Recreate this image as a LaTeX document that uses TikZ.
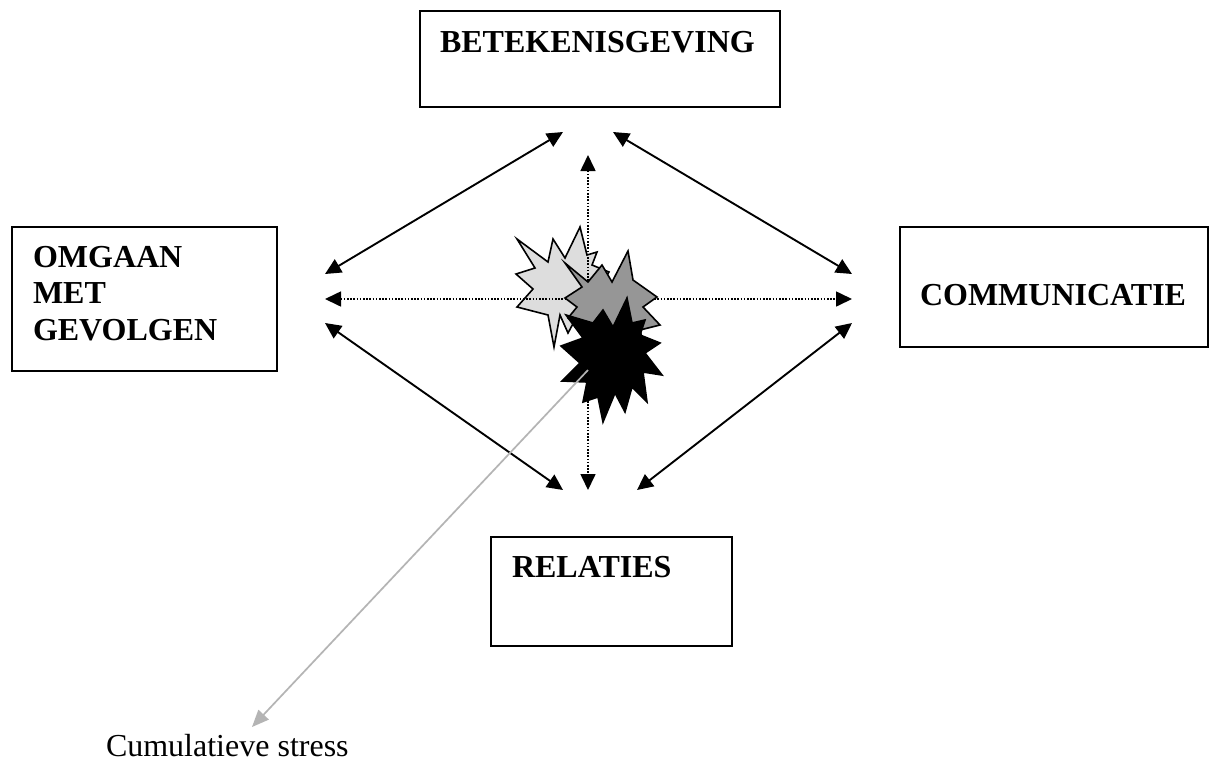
\documentclass[tikz,border=0pt]{standalone}
\usepackage{fontspec}
\setmainfont{Liberation Serif}
\usetikzlibrary{arrows.meta}
\definecolor{lightstar}{HTML}{DDDDDD}
\definecolor{midstar}{HTML}{969696}
\definecolor{stressgray}{HTML}{B4B4B4}
\begin{document}
\begin{tikzpicture}[x=1pt,y=-1pt,
  box/.style={draw, line width=2pt, inner sep=0pt, outer sep=0pt, anchor=north west},
  lbl/.style={inner sep=0pt, outer sep=0pt, anchor=base west, font=\fontsize{32}{36.5}\selectfont\bfseries},
  plain/.style={inner sep=0pt, outer sep=0pt, anchor=base west, font=\fontsize{32}{36.5}\selectfont},
  biarrow/.style={{Triangle[length=16pt,width=15pt]}-{Triangle[length=16pt,width=15pt]}, line width=1.9pt},
  dotarrow/.style={{Triangle[length=16pt,width=15pt]}-{Triangle[length=16pt,width=15pt]}, line width=1.6pt, dash pattern=on 1.6pt off 1.6pt},
  stressarrow/.style={-{Triangle[length=17pt,width=14pt]}, line width=1.7pt, draw=stressgray},
  star/.style={draw=black, line width=1.6pt, line join=miter}
]
\useasboundingbox (0,0) rectangle (1209,764);
\fill[white] (0,0) rectangle (1209,764);

% boxes
\node[box, minimum width=360pt, minimum height=96pt] (bet) at (420,11) {};
\node[box, minimum width=265pt, minimum height=144pt] (omg) at (12,227) {};
\node[box, minimum width=308pt, minimum height=120pt] (com) at (900,227) {};
\node[box, minimum width=241pt, minimum height=109pt] (rel) at (491,537) {};

% labels
\node[lbl] (tbet) at (440,52) {BETEKENISGEVING};
\node[lbl, align=left] (tomg) at (33,340) {OMGAAN\\MET\\GEVOLGEN};
\node[lbl] (tcom) at (920,305) {COMMUNICATIE};
\node[lbl] (trel) at (512,577) {RELATIES};
\node[plain] (tstress) at (106,756) {Cumulatieve stress};

% arrow end points
\coordinate (ul1) at (563,132);
\coordinate (ul2) at (325,274);
\coordinate (ur1) at (613,132);
\coordinate (ur2) at (852,274);
\coordinate (ll1) at (325,323);
\coordinate (ll2) at (563,490);
\coordinate (lr1) at (852,323);
\coordinate (lr2) at (637,490);
\coordinate (vt) at (588,155);
\coordinate (vb) at (588,490);
\coordinate (hl) at (325,299);
\coordinate (hr) at (852,299);
\coordinate (s0) at (588,370);
\coordinate (s1) at (252,727);

% solid double arrows
\draw[biarrow] (ul1) -- (ul2);
\draw[biarrow] (ur1) -- (ur2);
\draw[biarrow] (ll1) -- (ll2);
\draw[biarrow] (lr1) -- (lr2);

% light star
\filldraw[star, fill=lightstar] (517,239) -- (548,262) -- (553,239) -- (565,258) -- (580,227) -- (587,255) -- (597,252) -- (592,265) -- (609,272) -- (600,285) -- (612,305) -- (595,310) -- (590,335) -- (575,320) -- (568,333) -- (560,315) -- (554,347) -- (548,315) -- (517,307) -- (533,289) -- (516,274) -- (535,268) -- cycle;

% dotted arrows
\draw[dotarrow] (hl) -- (hr);
\draw[dotarrow] (vt) -- (vb);

% mid star
\filldraw[star, fill=midstar] (565,263) -- (588,282) -- (602,265) -- (612,282) -- (628,251) -- (633,280) -- (657,297) -- (643,307) -- (660,325) -- (640,330) -- (645,350) -- (620,345) -- (600,355) -- (590,340) -- (568,318) -- (577,307) -- (565,298) -- (582,287) -- cycle;

% black star
\filldraw[star, fill=black] (603,310) -- (613,327) -- (627,298) -- (632,323) -- (645,320) -- (640,335) -- (660,343) -- (645,353) -- (662,375) -- (643,372) -- (647,402) -- (632,387) -- (625,412) -- (615,393) -- (603,422) -- (598,397) -- (583,402) -- (587,382) -- (562,381) -- (580,363) -- (561,346) -- (583,338) -- (566,315) -- (593,323) -- cycle;

% stress arrow
\draw[stressarrow] (s0) -- (s1);
\end{tikzpicture}
\end{document}
